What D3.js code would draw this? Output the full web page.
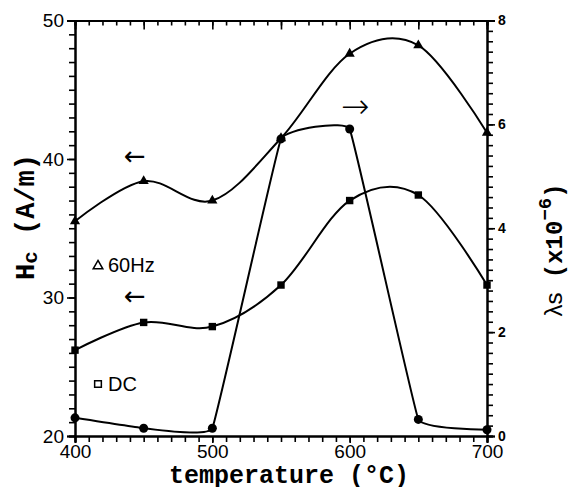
<!DOCTYPE html>
<html lang="en">
  <head>
    <meta charset="utf-8">
    <title>Hc and lambda s vs temperature</title>
    <script src="https://d3js.org/d3.v7.min.js"></script>
    <style>
      body { margin: 0; background: #fff; }
      .tick text { font-family: "Liberation Sans", Arial, sans-serif; }
      .title { font-family: "Liberation Mono", "Courier New", monospace; font-weight: bold; }
    </style>
  </head>
  <body>
  <script>

  // values
  var temps = [400, 450, 500, 550, 600, 650, 700];
  var hc60 = [35.5, 38.4, 37.0, 41.5, 47.6, 48.2, 41.9];
  var hcDC = [26.2, 28.2, 27.9, 30.9, 37.0, 37.4, 30.9];
  var lambdaS = [0.35, 0.15, 0.15, 5.72, 5.91, 0.32, 0.12];

  var xMajor = [400, 500, 600, 700];
  var yLeftMajor = [20, 30, 40, 50];
  var yRightMajor = [0, 2, 4, 6, 8];

  var w = 570;
  var h = 487;
  var margin = {top: 20.5, right: 83, bottom: 51, left: 75};

  var svg = d3.select("body")
    .append("svg")
    .attr("width", w)
    .attr("height", h);

  var x = d3.scaleLinear().domain([400, 700]).range([margin.left, w - margin.right]);
  var yL = d3.scaleLinear().domain([20, 50]).range([h - margin.bottom, margin.top]);
  var yR = d3.scaleLinear().domain([0, 8]).range([h - margin.bottom, margin.top]);

  var bottom = h - margin.bottom;
  var right = w - margin.right;

  // bottom axis: minor every 10, labels at 100s
  svg.append("g")
    .attr("transform", `translate(0,${bottom})`)
    .call(d3.axisBottom(x).tickValues(d3.range(400, 701, 10)).tickSize(6).tickFormat(""));
  svg.append("g")
    .attr("transform", `translate(0,${bottom})`)
    .call(d3.axisBottom(x).tickValues(xMajor).tickSize(7).tickPadding(2).tickFormat(d3.format("d")))
    .selectAll("text").style("font-size", "19px").attr("fill", "#000");

  // top axis, ticks inward
  svg.append("g")
    .attr("transform", `translate(0,${margin.top})`)
    .call(d3.axisBottom(x).tickValues(d3.range(400, 701, 10)).tickSize(5).tickFormat(""));
  svg.append("g")
    .attr("transform", `translate(0,${margin.top})`)
    .call(d3.axisBottom(x).tickValues(d3.range(450, 651, 50)).tickSize(9).tickFormat(""));

  // left axis
  svg.append("g")
    .attr("transform", `translate(${margin.left},0)`)
    .call(d3.axisLeft(yL).tickValues(d3.range(20, 51, 1)).tickSize(6).tickFormat(""));
  svg.append("g")
    .attr("transform", `translate(${margin.left},0)`)
    .call(d3.axisLeft(yL).tickValues(yLeftMajor).tickSize(8).tickPadding(3).tickFormat(d3.format("d")))
    .selectAll("text").style("font-size", "19px").attr("fill", "#000");

  // right axis
  svg.append("g")
    .attr("transform", `translate(${right},0)`)
    .call(d3.axisRight(yR).tickValues(d3.range(0, 41).map(d => d * 0.2)).tickSize(6).tickFormat(""));
  svg.append("g")
    .attr("transform", `translate(${right},0)`)
    .call(d3.axisRight(yR).tickValues(yRightMajor).tickSize(8).tickPadding(3).tickFormat(d3.format("d")))
    .selectAll("text").style("font-size", "14px").style("font-weight", "bold").attr("fill", "#000");

  svg.selectAll(".domain").attr("stroke", "#000").attr("stroke-width", 2);
  svg.selectAll(".tick line").attr("stroke", "#000").attr("stroke-width", 1.6);

  // curves
  var lineL = d3.line().x((d, i) => x(temps[i])).y(d => yL(d)).curve(d3.curveCardinal.tension(0));
  var lineR = d3.line().x((d, i) => x(temps[i])).y(d => yR(d)).curve(d3.curveCardinal.tension(0.8));

  svg.append("path").datum(hc60).attr("d", lineL)
    .attr("fill", "none").attr("stroke", "#000").attr("stroke-width", 2);
  svg.append("path").datum(hcDC).attr("d", lineL)
    .attr("fill", "none").attr("stroke", "#000").attr("stroke-width", 2);
  svg.append("path").datum(lambdaS).attr("d", lineR)
    .attr("fill", "none").attr("stroke", "#000").attr("stroke-width", 2);

  // markers
  var tri = d3.symbol().type(d3.symbolTriangle).size(45);
  var sq = d3.symbol().type(d3.symbolSquare).size(55);

  svg.selectAll(".m60").data(hc60).enter().append("path")
    .attr("class", "m60")
    .attr("transform", (d, i) => `translate(${x(temps[i])},${yL(d)})`)
    .attr("d", tri).attr("fill", "#000");
  svg.selectAll(".mdc").data(hcDC).enter().append("path")
    .attr("class", "mdc")
    .attr("transform", (d, i) => `translate(${x(temps[i])},${yL(d)})`)
    .attr("d", sq).attr("fill", "#000");
  svg.selectAll(".ml").data(lambdaS).enter().append("circle")
    .attr("class", "ml")
    .attr("cx", (d, i) => x(temps[i]))
    .attr("cy", d => yR(d))
    .attr("r", 4.5).attr("fill", "#000");

  // legend
  svg.append("path")
    .attr("transform", "translate(98,266)")
    .attr("d", d3.symbol().type(d3.symbolTriangle).size(40))
    .attr("fill", "none").attr("stroke", "#000").attr("stroke-width", 1.5);
  svg.append("text").attr("x", 108).attr("y", 272)
    .style("font-family", "Liberation Sans, Arial, sans-serif").style("font-size", "20px")
    .text("60Hz");
  svg.append("path")
    .attr("transform", "translate(98,384)")
    .attr("d", d3.symbol().type(d3.symbolSquare).size(45))
    .attr("fill", "none").attr("stroke", "#000").attr("stroke-width", 1.5);
  svg.append("text").attr("x", 108).attr("y", 391)
    .style("font-family", "Liberation Sans, Arial, sans-serif").style("font-size", "20px")
    .text("DC");

  // arrows pointing at the axis each curve uses
  var arrowFont = "DejaVu Sans, sans-serif";
  svg.append("text").attr("x", 124).attr("y", 165)
    .style("font-family", arrowFont).style("font-size", "26px").text("\u2190");
  svg.append("text").attr("x", 124).attr("y", 305)
    .style("font-family", arrowFont).style("font-size", "26px").text("\u2190");
  svg.append("text").attr("x", 341).attr("y", 118)
    .style("font-family", arrowFont).style("font-size", "34px").style("font-weight", "300").text("\u2192");

  // axis titles
  svg.append("text").attr("class", "title")
    .attr("x", 289).attr("y", 483)
    .attr("text-anchor", "middle").style("font-size", "25px")
    .text("temperature (\u00b0C)");

  var lt = svg.append("text").attr("class", "title")
    .attr("transform", "translate(34,217) rotate(-90)")
    .attr("text-anchor", "middle").style("font-size", "27px");
  lt.append("tspan").text("H");
  lt.append("tspan").attr("dy", 3).style("font-size", "21px").text("c");
  lt.append("tspan").attr("dy", -3).text(" (A/m)");

  var rt = svg.append("text").attr("class", "title")
    .attr("transform", "translate(562,250) rotate(-90)")
    .attr("text-anchor", "middle").style("font-size", "24px");
  rt.append("tspan").style("font-family", "Liberation Sans, Arial, sans-serif").style("font-weight", "normal").text("\u03bbs");
  rt.append("tspan").text(" (x10");
  rt.append("tspan").attr("dy", -11).style("font-size", "19px").text("\u22126");
  rt.append("tspan").attr("dy", 11).text(")");

  </script>
  </body>
</html>
